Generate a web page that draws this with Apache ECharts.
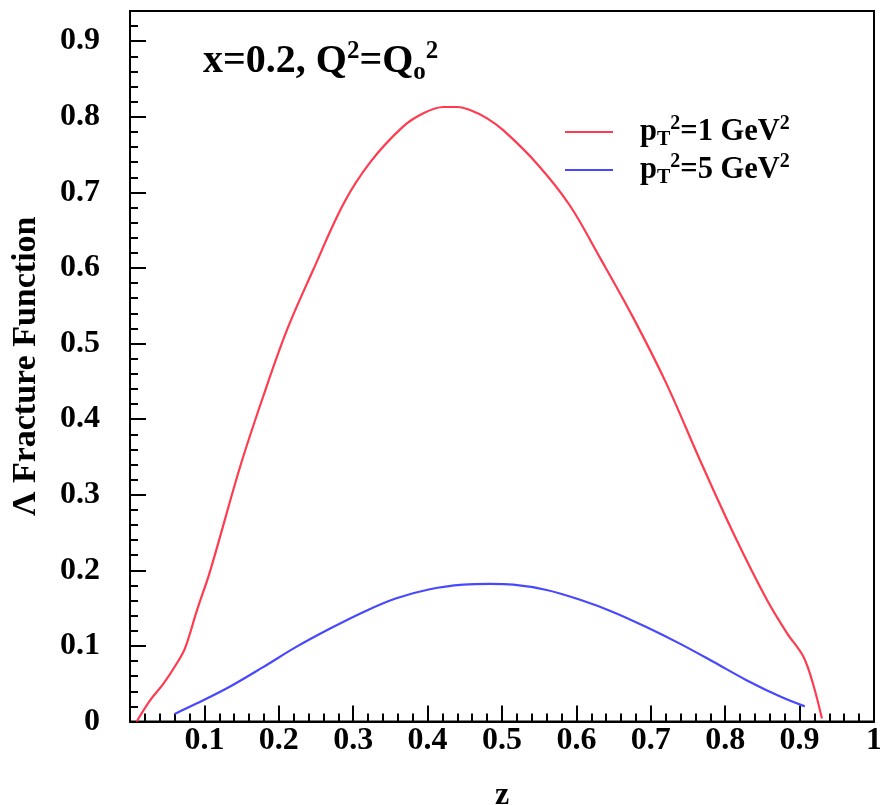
<!DOCTYPE html>
<html>
<head>
<meta charset="utf-8">
<script src="https://cdn.jsdelivr.net/npm/echarts@6/dist/echarts.min.js"></script>
<style>html,body{margin:0;padding:0;background:#fff}#c{width:880px;height:805px}</style>
</head>
<body>
<div id="c"></div>
<script>
// z values and Lambda fracture function values
const redZ = [0.009,0.027,0.045,0.063,0.074,0.09,0.108,0.148,0.179,0.211,0.246,0.287,0.323,0.367,0.395,0.421,0.44,0.457,0.48,0.502,0.547,0.591,0.632,0.676,0.721,0.766,0.811,0.856,0.883,0.905,0.918,0.93];
const redV = [0,0.028,0.05,0.077,0.097,0.147,0.2,0.337,0.43,0.518,0.597,0.685,0.74,0.787,0.805,0.813,0.813,0.809,0.798,0.782,0.738,0.683,0.613,0.535,0.447,0.346,0.249,0.161,0.117,0.086,0.05,0.004];
const blueZ = [0.06,0.09,0.134,0.179,0.224,0.269,0.314,0.358,0.403,0.448,0.484,0.515,0.56,0.605,0.649,0.694,0.739,0.784,0.828,0.874,0.907];
const blueV = [0.01,0.024,0.046,0.072,0.099,0.123,0.145,0.163,0.175,0.181,0.182,0.181,0.174,0.161,0.145,0.125,0.103,0.079,0.055,0.033,0.02];
const seriesNames = ['pT2=1', 'pT2=5'];
const legendLabels = ['{p|p}{sub|T}{sup|2}=1 GeV{sup|2}', '{p|p}{sub|T}{sup|2}=5 GeV{sup|2}'];
const xTickLabels = ['', '0.1','0.2','0.3','0.4','0.5','0.6','0.7','0.8','0.9','1'];
const yTickLabels = ['0','0.1','0.2','0.3','0.4','0.5','0.6','0.7','0.8','0.9'];
const titleText = 'x=0.2, Q{sup|2}=Q{sub|o}{sup|2}';
const xName = 'z';
const yName = 'Λ Fracture Function';

const FONT = 'Liberation Serif';
const zip = (a, b) => a.map((v, i) => [v, b[i]]);
const chart = echarts.init(document.getElementById('c'), null, {renderer: 'canvas'});

const legendText = () => ({
  fontFamily: FONT, fontWeight: 'bold', fontSize: 30.5, color: '#000', lineHeight: 36,
  rich: {
    p: {fontFamily: FONT, fontWeight: 'bold', fontSize: 30.5, padding: [0,0,0,22], color: '#000'},
    sub: {fontFamily: FONT, fontWeight: 'bold', fontSize: 20, verticalAlign: 'bottom', color: '#000', lineHeight: 30},
    sup: {fontFamily: FONT, fontWeight: 'bold', fontSize: 20, verticalAlign: 'top', color: '#000', lineHeight: 30}
  }
});

chart.setOption({
  animation: false,
  backgroundColor: '#fff',
  title: {
    text: titleText, left: 198, top: 34,
    textStyle: {
      fontFamily: FONT, fontWeight: 'bold', fontSize: 40, color: '#000', lineHeight: 46,
      rich: {
        sup: {fontFamily: FONT, fontWeight: 'bold', fontSize: 25, verticalAlign: 'top', color: '#000', lineHeight: 38},
        sub: {fontFamily: FONT, fontWeight: 'bold', fontSize: 25, verticalAlign: 'bottom', color: '#000', lineHeight: 38}
      }
    }
  },
  legend: [0, 1].map(i => ({
    data: [seriesNames[i]], left: 565, top: (i === 0 ? 114 : 152), padding: 0,
    icon: 'rect', itemWidth: 48, itemHeight: 2,
    formatter: () => legendLabels[i],
    textStyle: legendText()
  })),
  grid: {left: 130, right: 6, top: 11, bottom: 83.5, outerBoundsMode: 'none', containLabel: false, show: true, borderColor: '#000', borderWidth: 2, backgroundColor: 'transparent'},
  xAxis: {
    type: 'value', min: 0, max: 1, interval: 0.1,
    name: xName, nameLocation: 'middle', nameGap: 58,
    nameTextStyle: {fontFamily: FONT, fontWeight: 'bold', fontSize: 32, color: '#000'},
    axisLine: {show: true, lineStyle: {color: '#000', width: 2}},
    axisTick: {show: true, inside: true, length: 16, lineStyle: {color: '#000', width: 2}},
    minorTick: {show: true, splitNumber: 5, length: 8, lineStyle: {color: '#000', width: 2}},
    splitLine: {show: false},
    axisLabel: {
      margin: 3, fontFamily: FONT, fontWeight: 'bold', fontSize: 32, color: '#000',
      formatter: v => { const i = Math.round(v * 10); return (Math.abs(v * 10 - i) < 1e-6 && xTickLabels[i] !== undefined) ? xTickLabels[i] : ''; }
    }
  },
  yAxis: [{
    type: 'value', min: 0, max: 0.94, interval: 0.1,
    name: yName, nameLocation: 'middle', nameGap: 87, nameRotate: 90,
    nameTextStyle: {fontFamily: FONT, fontWeight: 'bold', fontSize: 34, color: '#000'},
    axisLine: {show: true, lineStyle: {color: '#000', width: 2}},
    axisTick: {show: true, inside: true, length: 16, lineStyle: {color: '#000', width: 2}},
    splitLine: {show: false},
    axisLabel: {
      margin: 30, fontFamily: FONT, fontWeight: 'bold', fontSize: 32, color: '#000', padding: [5, 0, 0, 0],
      formatter: v => { const i = Math.round(v * 10); return (Math.abs(v * 10 - i) < 1e-6 && yTickLabels[i] !== undefined) ? yTickLabels[i] : ''; }
    }
  }, {
    type: 'value', min: 0, max: 0.94, interval: 0.02, position: 'left', offset: 0,
    axisLine: {show: false},
    axisTick: {show: true, inside: true, length: 8, lineStyle: {color: '#000', width: 2}},
    axisLabel: {show: false}, splitLine: {show: false}
  }],
  series: [{
    name: seriesNames[0], type: 'line', data: zip(redZ, redV), showSymbol: false, symbol: 'none',
    smooth: 0.35, lineStyle: {color: '#ff3b50', width: 2.2}, itemStyle: {color: '#ff3b50'}
  }, {
    name: seriesNames[1], type: 'line', data: zip(blueZ, blueV), showSymbol: false, symbol: 'none',
    smooth: 0.35, lineStyle: {color: '#4848ff', width: 2.2}, itemStyle: {color: '#4848ff'}
  }]
});
</script>
</body>
</html>
